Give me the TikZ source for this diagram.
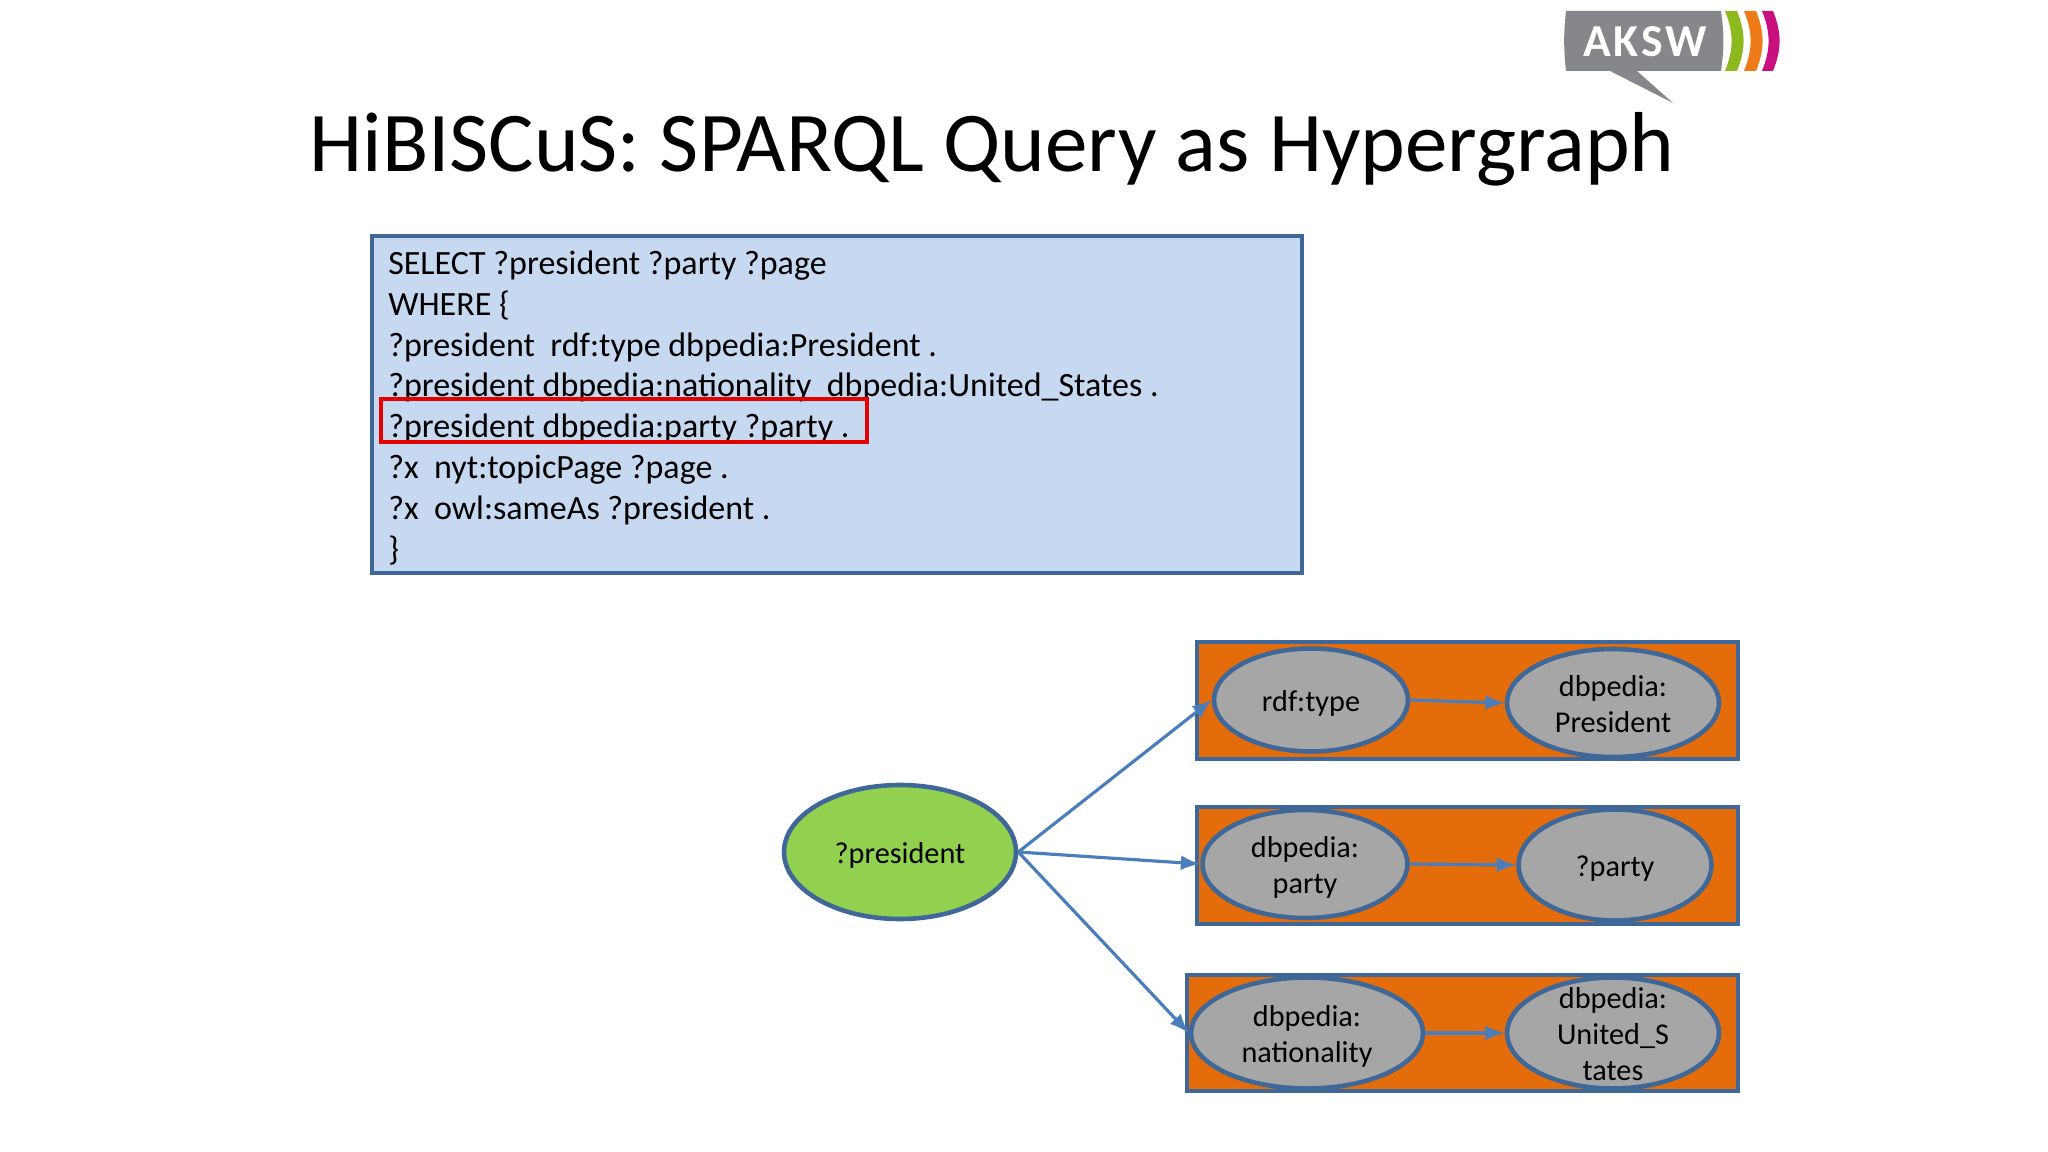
\documentclass[tikz,border=0pt]{standalone}
\usepackage{fontspec}
\setmainfont{Carlito}
\usepackage{tikz}
\usetikzlibrary{arrows,shapes.geometric}
\definecolor{borderblue}{HTML}{3F6797}
\definecolor{linkblue}{HTML}{4A7EBB}
\definecolor{queryblue}{HTML}{C6D9F1}
\definecolor{boxorange}{HTML}{E46C0A}
\definecolor{nodegrey}{HTML}{A6A6A6}
\definecolor{varlgreen}{HTML}{92D050}
\definecolor{logogrey}{HTML}{85878A}
\definecolor{logogreen}{HTML}{8DB81E}
\definecolor{logoorange}{HTML}{EF7A1A}
\definecolor{logopink}{HTML}{C8107F}
\newcommand{\termtext}[1]{\raisebox{-1.2pt}[\height][\depth]{\begin{tabular}{@{}c@{}}#1\end{tabular}}}
\tikzset{
  hyperbox/.style={draw=borderblue,fill=boxorange,line width=1pt,inner sep=0pt,anchor=north west},
  termnode/.style={ellipse,draw=borderblue,fill=nodegrey,line width=1.3pt,inner xsep=0pt,inner ysep=-6pt,font=\fontsize{8.6}{10.3}\selectfont},
  link/.style={-latex,draw=linkblue,line width=0.9pt},
  logobar/.style={bend left=22}
}
\begin{document}
\begin{tikzpicture}[x=0.01cm,y=-0.01cm]
                      \useasboundingbox (0,0) rectangle (2048,1152);
                      % logo
                      \fill[logogrey] (1566,11) -- (1721,11) to[bend left=8] (1721,71) -- (1637,71) -- (1673,103) -- (1610,71) -- (1566,71) to[bend left=6] (1566,11) -- cycle;
                      \fill[logogreen] (1725,11) -- (1737,11) to[logobar] (1737,71) -- (1725,71) to[bend right=22] (1725,11) -- cycle;
                      \fill[logoorange] (1744,11) -- (1756,11) to[logobar] (1756,71) -- (1744,71) to[bend right=22] (1744,11) -- cycle;
                      \fill[logopink] (1762,11) -- (1773,11) to[logobar] (1773,71) -- (1762,71) to[bend right=22] (1762,11) -- cycle;
                      \node[text=white,font=\fontsize{13}{13}\selectfont\bfseries\addfontfeatures{LetterSpace=6}] (logo) at (1645,42) {AKSW};
                      % title
                      \node[font=\fontsize{24.2}{26}\selectfont] (title) at (992,149) {HiBISCuS: SPARQL Query as Hypergraph};
                      % query
                      \node[draw=borderblue,fill=queryblue,line width=1pt,anchor=north west,minimum width=930*0.01cm,minimum height=337*0.01cm,inner sep=0pt,text width=897*0.01cm,align=left,font=\fontsize{9.67}{11.62}\selectfont] (query) at (370,234) {%
                        \spaceskip=0.226em\relax
                        \rule{0pt}{8.8pt}SELECT ?president ?party ?page\\
                        WHERE \{\\
                        ?president\ \ rdf:type dbpedia:President .\\
                        ?president dbpedia:nationality\ \ dbpedia:United\_States .\\
                        ?president dbpedia:party ?party .\\
                        ?x\ \ nyt:topicPage ?page .\\
                        ?x\ \ owl:sameAs ?president .\\
                        \}};
                      \node[draw=red!90!black,line width=1pt,anchor=north west,minimum width=486*0.01cm,minimum height=43*0.01cm,inner sep=0pt] (selected) at (379,397) {};
                      % hyperedges
                      \node[hyperbox,minimum width=541*0.01cm,minimum height=117*0.01cm] (edgea) at (1195,640) {};
                      \node[hyperbox,minimum width=541*0.01cm,minimum height=117*0.01cm] (edgeb) at (1195,805) {};
                      \node[hyperbox,minimum width=551*0.01cm,minimum height=116*0.01cm] (edgec) at (1185,973) {};
                      \node[termnode,fill=varlgreen,minimum width=232*0.01cm,minimum height=134*0.01cm] (president) at (900,852) {\termtext{?president}};
                      \node[termnode,minimum width=194*0.01cm,minimum height=103*0.01cm] (rdftype) at (1311,700) {\termtext{rdf:type}};
                      \node[termnode,minimum width=212*0.01cm,minimum height=108*0.01cm] (dbpresident) at (1613,703) {\termtext{dbpedia:\\President}};
                      \node[termnode,minimum width=205*0.01cm,minimum height=108*0.01cm] (dbparty) at (1305,864) {\termtext{dbpedia:\\party}};
                      \node[termnode,minimum width=193*0.01cm,minimum height=111*0.01cm] (party) at (1615,865) {\termtext{?party}};
                      \node[termnode,minimum width=232*0.01cm,minimum height=111*0.01cm] (dbnationality) at (1307,1033) {\termtext{dbpedia:\\nationality}};
                      \node[termnode,minimum width=212*0.01cm,minimum height=111*0.01cm] (dbunited) at (1613,1033) {\termtext{dbpedia:\\United\_S\\tates}};
                      % links
                      \draw[link] (president.east) -- (rdftype.west);
                      \draw[link] (president.east) -- (dbparty.west);
                      \draw[link] (president.east) -- (dbnationality.west);
                      \draw[link] (rdftype.east) -- (dbpresident.west);
                      \draw[link] (dbparty.east) -- (party.west);
                      \draw[link] (dbnationality.east) -- (dbunited.west);
                  \end{tikzpicture}
\end{document}
